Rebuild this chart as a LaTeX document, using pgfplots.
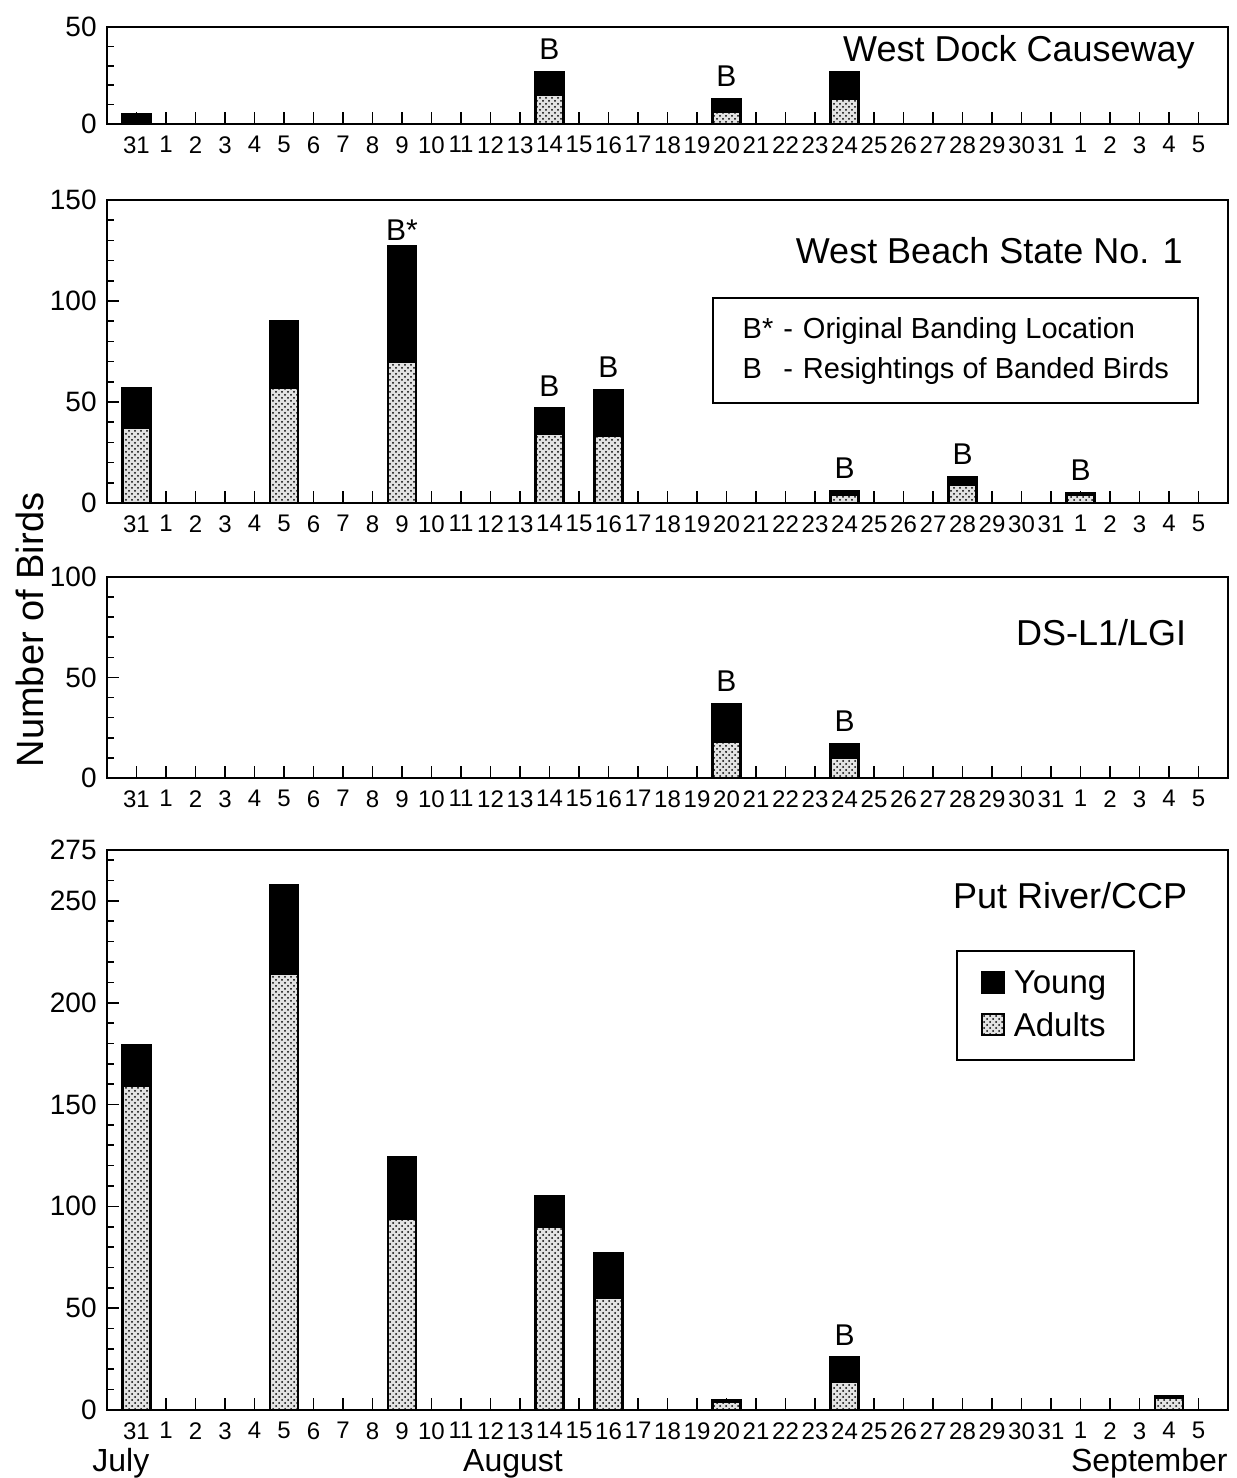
\documentclass[border=0pt]{standalone}
\usepackage{pgfplots}
\pgfplotsset{compat=1.18}
\usetikzlibrary{patterns}
\usepackage{fontspec}
\setmainfont{Liberation Sans}

\tikzset{ptitle/.style={anchor=base east, inner sep=0pt, font=\fontsize{18}{20}\selectfont},
  blab/.style={anchor=base, inner sep=0pt, yshift=6pt, font=\fontsize{15}{16}\selectfont}}
\pgfplotsset{
  panel/.style={
    scale only axis, width=560.5pt, xmin=-1, xmax=37, ymin=0,
    anchor=south west, clip=false,
    xtick={0,...,36},
    xticklabels={31,1,2,3,4,5,6,7,8,9,10,11,12,13,14,15,16,17,18,19,20,21,22,23,24,25,26,27,28,29,30,31,1,2,3,4,5},
    xtick pos=bottom, ytick pos=left, tick align=inside,
    major tick length=6pt, minor tick length=3.5pt,
    axis line style={line width=1.1pt},
    every tick/.style={black, line width=0.8pt},
    xticklabel style={font=\fontsize{12}{13}\selectfont, inner sep=0pt, yshift=-6pt},
    yticklabel style={font=\fontsize{14}{16}\selectfont, inner sep=0pt, xshift=-5pt},
    /pgf/number format/assume math mode=true,
    ybar stacked, bar width=14pt,
  },
  adults/.style={draw=black, line width=1.1pt, fill=gray!22,
    postaction={pattern=crosshatch dots, pattern color=black},
    legend image code/.code={\draw[##1] (0pt,-4.5pt) rectangle (11pt,6pt);}},
  young/.style={draw=black, line width=1.1pt, fill=black,
    legend image code/.code={\draw[##1] (0pt,-4.5pt) rectangle (11pt,6pt);}},
}

\begin{document}
\begin{tikzpicture}
\useasboundingbox (0,0) rectangle (618.5pt,739pt);

% Panel 1: West Dock Causeway
\begin{axis}[panel, at={(53.5pt,677pt)}, height=48.5pt, ymax=50,
  ytick={0,50}, minor ytick={10,20,30,40}]
\addplot[adults] table {
x y
0 1
14 15
20 6
24 13
};
\addplot[young] table {
x y
0 4
14 12
20 7
24 14
};
\node[blab] at (axis cs:14,27) {B};
\node[blab] at (axis cs:20,13) {B};
\node[ptitle] at (rel axis cs:0.9706,0.639) {West Dock Causeway};
\end{axis}

% Panel 2: West Beach State No. 1
\begin{axis}[panel, at={(53.5pt,487.5pt)}, height=151.5pt, ymax=150,
  ytick={0,50,100,150}, minor ytick={10,20,30,40,60,70,80,90,110,120,130,140}]
\addplot[adults] table {
x y
0 37
5 57
9 70
14 34
16 33
24 4
28 9
32 4
};
\addplot[young] table {
x y
0 20
5 33
9 57
14 13
16 23
24 2
28 4
32 1
};
\node[blab, yshift=-3pt] at (axis cs:9,127) {B*};
\node[blab] at (axis cs:14,47) {B};
\node[blab] at (axis cs:16,56) {B};
\node[blab] at (axis cs:24,6) {B};
\node[blab] at (axis cs:28,13) {B};
\node[blab] at (axis cs:32,5) {B};
\node[ptitle] at (rel axis cs:0.96,0.792) {West Beach State No. 1};
\node[draw, line width=1pt, anchor=north west, inner xsep=12pt, inner ysep=6pt,
  minimum width=242.5pt, minimum height=52.5pt, align=left]
  at (rel axis cs:0.54,0.68) {\fontsize{14.5}{20}\selectfont
  \begin{tabular}{@{}l@{\hspace{5pt}}c@{\hspace{5pt}}l@{}}
  B* & - & Original Banding Location\\
  B & - & Resightings of Banded Birds
  \end{tabular}};
\end{axis}

% Panel 3: DS-L1/LGI
\begin{axis}[panel, at={(53.5pt,350pt)}, height=100.5pt, ymax=100,
  ytick={0,50,100}, minor ytick={10,20,30,40,60,70,80,90}]
\addplot[adults] table {
x y
20 18
24 10
};
\addplot[young] table {
x y
20 19
24 7
};
\node[blab] at (axis cs:20,37) {B};
\node[blab] at (axis cs:24,17) {B};
\node[ptitle] at (rel axis cs:0.963,0.657) {DS-L1/LGI};
\end{axis}

% Panel 4: Put River/CCP
\begin{axis}[panel, at={(53.5pt,34pt)}, height=280pt, ymax=275,
  ytick={0,50,100,150,200,250,275},
  minor ytick={10,20,30,40,60,70,80,90,110,120,130,140,160,170,180,190,210,220,230,240,260,270},
  reverse legend,
  legend style={at={(0.757,0.821)}, anchor=north west, draw=black, line width=1pt,
    font=\fontsize{16.5}{18}\selectfont, inner xsep=12pt, inner ysep=8pt,
    row sep=4pt, cells={anchor=west}}]
\addplot[adults] table {
x y
0 159
5 214
9 94
14 90
16 55
20 4
24 14
35 6
};
\addlegendentry{\hspace{2.5pt}Adults}
\addplot[young] table {
x y
0 20
5 44
9 30
14 15
16 22
20 1
24 12
35 1
};
\addlegendentry{\hspace{2.5pt}Young}
\node[blab] at (axis cs:24,26) {B};
\node[ptitle] at (rel axis cs:0.964,0.895) {Put River/CCP};
\end{axis}

\node[rotate=90, font=\fontsize{19}{21}\selectfont] at (15pt,424pt) {Number of Birds};
\node[anchor=base west, inner sep=0pt, font=\fontsize{16}{18}\selectfont] at (46pt,3pt) {July};
\node[anchor=base, inner sep=0pt, font=\fontsize{16}{18}\selectfont] at (256.5pt,3pt) {August};
\node[anchor=base east, inner sep=0pt, font=\fontsize{16}{18}\selectfont] at (614pt,3pt) {September};
\end{tikzpicture}
\end{document}
